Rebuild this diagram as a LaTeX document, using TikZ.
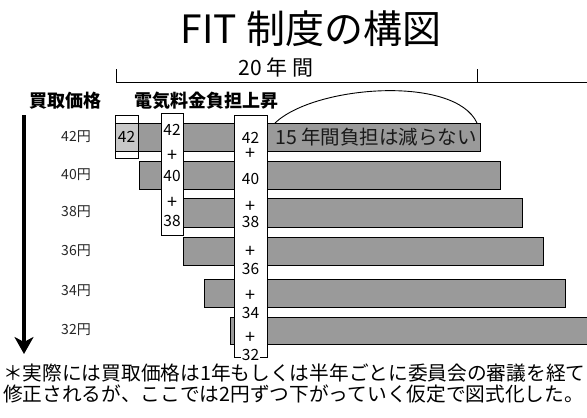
\documentclass[tikz,border=0pt]{standalone}
\usepackage{fontspec}
\setmainfont{Noto Sans CJK JP}
\usetikzlibrary{arrows.meta}
\definecolor{bargray}{HTML}{9A9A9A}
\definecolor{lightbar}{HTML}{C8C8C8}
\tikzset{
  bar/.style={draw=black, line width=1pt, fill=bargray},
  wbox/.style={draw=black, line width=0.9pt, fill=white},
  num/.style={inner sep=0pt, font=\fontsize{15.5}{15.5}\selectfont},
  plus/.style={inner sep=0pt, font=\fontsize{18}{18}\selectfont},
  price/.style={inner sep=0pt, font=\fontsize{14}{14}\selectfont, text=black!85},
  head/.style={inner sep=0pt, font=\bfseries\fontsize{18}{18}\selectfont},
  foot/.style={inner sep=0pt, anchor=west, font=\fontsize{19.7}{19.7}\selectfont},
}
\begin{document}
\begin{tikzpicture}[x=1pt,y=-1pt]
\useasboundingbox (0,0) rectangle (587,418);
% title
\node[inner sep=0pt, font=\fontsize{39}{39}\selectfont] (title) at (311,29) {FIT 制度の構図};
\node[inner sep=0pt, font=\fontsize{21}{21}\selectfont] (span) at (276,67) {20 年 間};
% bracket
\coordinate (bl) at (116,69);
\coordinate (blb) at (116,82);
\coordinate (br) at (477,69);
\coordinate (brb) at (477,82);
\coordinate (bend) at (590,82);
\draw[line width=1pt] (bl) -- (blb) -- (bend);
\draw[line width=1pt] (br) -- (brb);
% headings
\node[head] (kakaku) at (66,101) {買取価格};
\node[head] (futan) at (206,101) {電気料金負担上昇};
% arrow
\coordinate (atop) at (24,115);
\coordinate (abot) at (24,354);
\draw[line width=3.2pt, -{Stealth[width=19pt,length=17pt,inset=5pt]}] (atop) -- (abot);
% price labels
\node[price] (p42) at (76,137) {42円};
\node[price] (p40) at (76,175) {40円};
\node[price] (p38) at (76,212) {38円};
\node[price] (p36) at (76,251) {36円};
\node[price] (p34) at (76,291) {34円};
\node[price] (p32) at (76,330) {32円};
% bars
\draw[bar] (138,123) rectangle (480,151);
\draw[bar] (139,161) rectangle (500,189);
\draw[bar] (161,198) rectangle (522,227);
\draw[bar] (183,237) rectangle (543,265);
\draw[bar] (204,279) rectangle (565,307);
\draw[bar] (230,317) rectangle (592,344);
% first box
\draw[wbox] (115,115) rectangle (138,158);
\filldraw[fill=lightbar, draw=black, line width=0.9pt] (115,123) rectangle (138,151);
\node[num] (b1a) at (126.5,137) {42};
% second box
\draw[wbox] (161,113) rectangle (183,235);
\node[num] (b2a) at (172,130) {42};
\node[plus] (b2b) at (172,156) {+};
\node[num] (b2c) at (172,176) {40};
\node[plus] (b2d) at (172,203) {+};
\node[num] (b2e) at (172,221) {38};
% third box
\draw[wbox] (234,115) rectangle (267,357);
\node[num] (b3a) at (250.5,138) {42};
\node[plus] (b3b) at (250.5,154) {+};
\node[num] (b3c) at (250.5,179) {40};
\node[plus] (b3d) at (250.5,207) {+};
\node[num] (b3e) at (250.5,222) {38};
\node[plus] (b3f) at (250.5,252) {+};
\node[num] (b3g) at (250.5,269) {36};
\node[plus] (b3h) at (250.5,296) {+};
\node[num] (b3i) at (250.5,313) {34};
\node[plus] (b3j) at (250.5,338) {+};
\node[num, fill=white, inner sep=1pt] (b3k) at (250.5,355) {32};
% arc and label
\coordinate (arcL) at (275,123);
\coordinate (arcR) at (477,123);
\draw[line width=0.9pt] (arcL) .. controls (315,85) and (455,75) .. (arcR);
\node[inner sep=0pt, font=\fontsize{19.5}{19.5}\selectfont, text=black!90] (fifteen) at (376,137) {15 年間負担は減らない};
% footnote
\node[foot] (f1) at (3,373) {＊実際には買取価格は1年もしくは半年ごとに委員会の審議を経て};
\node[foot] (f2) at (3,394) {修正されるが、ここでは2円ずつ下がっていく仮定で図式化した。};
\end{tikzpicture}
\end{document}
